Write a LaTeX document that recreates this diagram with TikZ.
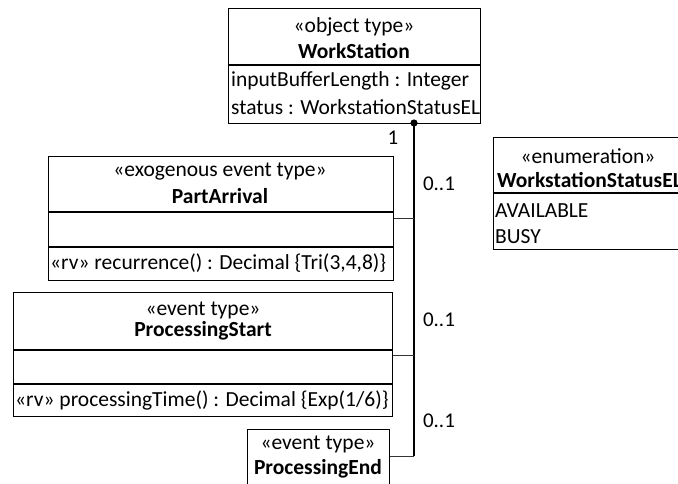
\documentclass[tikz,border=0pt]{standalone}
\usepackage{fontspec}
\setmainfont{Carlito}
\begin{document}
\begin{tikzpicture}[x=1pt,y=-1pt,
  classbox/.style={draw=black,line width=1.4pt,fill=white,anchor=north west,inner sep=0pt},
  head/.style={font=\fontsize{21.5}{25}\selectfont,inner sep=0pt,anchor=center},
  headb/.style={font=\fontsize{21.5}{25}\selectfont\bfseries,inner sep=0pt,anchor=center},
  attr/.style={font=\fontsize{21.5}{25}\selectfont,inner sep=0pt,anchor=west},
  mult/.style={font=\fontsize{21}{25}\selectfont,inner sep=0pt,anchor=center},
  divider/.style={line width=1.4pt},
  assoc/.style={line width=0.9pt,draw=black!80},
  trunk/.style={line width=1.7pt}]
\useasboundingbox (0,0) rectangle (678,484);
\clip (0,0) rectangle (678,484);

% WorkStation object type
\node[classbox,minimum width=252pt,minimum height=115pt] (ws) at (228,8) {};
\draw[divider] (ws.west |- 0,65) -- (ws.east |- 0,65);
\node[head] (wsS) at (354,27) {«object type»};
\node[headb] (wsN) at (354,51) {WorkStation};
\node[attr] (wsA1) at (231,81) {inputBufferLength : Integer};
\node[attr] (wsA2) at (231,107) {status : WorkstationStatusEL};

% WorkstationStatusEL enumeration (runs off the right edge)
\node[classbox,minimum width=227pt,minimum height=112pt] (en) at (493,137) {};
\draw[divider] (en.west |- 0,193) -- (en.east |- 0,193);
\node[head] (enS) at (588,156) {«enumeration»};
\node[headb,anchor=west] (enN) at (497,180) {WorkstationStatusEL};
\node[attr] (enA1) at (495,211) {AVAILABLE};
\node[attr] (enA2) at (495,237) {BUSY};

% PartArrival
\node[classbox,minimum width=345pt,minimum height=124pt] (pa) at (48,156) {};
\draw[divider] (pa.west |- 0,212) -- (pa.east |- 0,212);
\draw[divider] (pa.west |- 0,247) -- (pa.east |- 0,247);
\node[head] (paS) at (220,172) {«exogenous event type»};
\node[headb] (paN) at (220,196) {PartArrival};
\node[attr] (paO) at (50,263) {«rv» recurrence() : Decimal \{Tri(3,4,8)\}};

% ProcessingStart
\node[classbox,minimum width=379pt,minimum height=124pt] (ps) at (13,292) {};
\draw[divider] (ps.west |- 0,350) -- (ps.east |- 0,350);
\draw[divider] (ps.west |- 0,384) -- (ps.east |- 0,384);
\node[head] (psS) at (203,310) {«event type»};
\node[headb] (psN) at (203,331) {ProcessingStart};
\node[attr] (psO) at (15,400) {«rv» processingTime() : Decimal \{Exp(1/6)\}};

% ProcessingEnd (runs off the bottom edge)
\node[classbox,minimum width=142pt,minimum height=80pt] (pe) at (247,429) {};
\node[head] (peS) at (318,444) {«event type»};
\node[headb] (peN) at (318,469) {ProcessingEnd};

% association tree
\coordinate (top) at (414,123);
\coordinate (jpa) at (414,218);
\coordinate (jps) at (414,355);
\coordinate (jpe) at (414,456);
\draw[trunk] (top) -- (jpe);
\draw[assoc] (pa.east |- jpa) -- (jpa);
\draw[assoc] (ps.east |- jps) -- (jps);
\draw[assoc] (pe.east |- jpe) -- (jpe);
\fill (top) circle (3.6pt);

\node[mult] (m1) at (393,138) {1};
\node[mult] (m2) at (439,184) {0..1};
\node[mult] (m3) at (439,320) {0..1};
\node[mult] (m4) at (439,421) {0..1};
\end{tikzpicture}
\end{document}
